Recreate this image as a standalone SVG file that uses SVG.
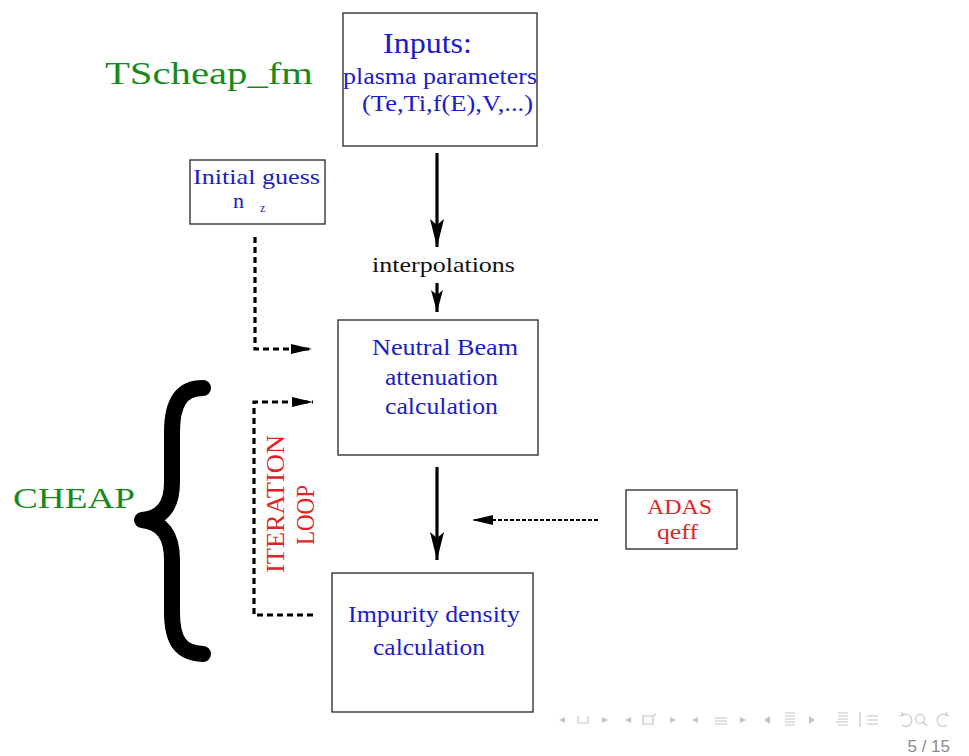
<svg xmlns="http://www.w3.org/2000/svg" width="969" height="756" viewBox="0 0 969 756">
<style>
.box{fill:#fff;stroke:#333;stroke-width:1.4}
.t{font-family:"Liberation Serif","Times New Roman",serif}
.blue{fill:#1c1cc8}
.red{fill:#e02424}
.green{fill:#178a1e}
.blk{fill:#111}
.solid{stroke:#000;stroke-width:3.2;fill:none}
.dash{stroke:#000;stroke-width:3.2;fill:none;stroke-dasharray:6 4}
.fine{stroke:#000;stroke-width:2;fill:none;stroke-dasharray:4 2}
.nav{fill:#c4c4c4}
.navs{stroke:#c4c4c4;stroke-width:1.2;fill:none}
</style>
<defs>
<marker id="ah" markerUnits="userSpaceOnUse" markerWidth="32" markerHeight="16" refX="0" refY="0" viewBox="-30 -8 32 16" orient="auto">
<path d="M0,0 L-28,-7 L-22,0 L-28,7 Z" fill="#000"/>
</marker>
<marker id="ahs" markerUnits="userSpaceOnUse" markerWidth="26" markerHeight="14" refX="0" refY="0" viewBox="-24 -7 26 14" orient="auto">
<path d="M0,0 L-22,-6 L-17,0 L-22,6 Z" fill="#000"/>
</marker>
<marker id="ahd" markerUnits="userSpaceOnUse" markerWidth="26" markerHeight="14" refX="0" refY="0" viewBox="-24 -7 26 14" orient="auto">
<path d="M0,0 L-21,-5 L-21,5 Z" fill="#000"/>
</marker>
</defs>
<rect width="969" height="756" fill="#fff"/>

<text class="t green" x="105" y="84" font-size="32" textLength="208" lengthAdjust="spacingAndGlyphs">TScheap_fm</text>

<g id="inputs">
<rect class="box" x="343" y="13" width="194" height="133"/>
<text class="t blue" x="383" y="53" font-size="30" textLength="89" lengthAdjust="spacingAndGlyphs">Inputs:</text>
<text class="t blue" x="343" y="84" font-size="23" textLength="194" lengthAdjust="spacingAndGlyphs">plasma parameters</text>
<text class="t blue" x="362" y="111" font-size="23" textLength="171" lengthAdjust="spacingAndGlyphs">(Te,Ti,f(E),V,...)</text>
</g>

<g id="initial">
<rect class="box" x="190" y="160" width="135" height="64"/>
<text class="t blue" x="193" y="184" font-size="21" textLength="127" lengthAdjust="spacingAndGlyphs">Initial guess</text>
<text class="t blue" x="233" y="208" font-size="22">n</text>
<text class="t blue" x="260" y="212" font-size="12">z</text>
</g>

<g id="interp">
<text class="t blk" x="372" y="272" font-size="22" textLength="143" lengthAdjust="spacingAndGlyphs">interpolations</text>
</g>

<g id="neutral">
<rect class="box" x="338" y="320" width="200" height="135"/>
<text class="t blue" x="372" y="355" font-size="23" textLength="146" lengthAdjust="spacingAndGlyphs">Neutral Beam</text>
<text class="t blue" x="385" y="385" font-size="23" textLength="113" lengthAdjust="spacingAndGlyphs">attenuation</text>
<text class="t blue" x="385" y="414" font-size="23" textLength="113" lengthAdjust="spacingAndGlyphs">calculation</text>
</g>

<g id="adas">
<rect class="box" x="626" y="490" width="111" height="59"/>
<text class="t red" x="647" y="514" font-size="22" textLength="65" lengthAdjust="spacingAndGlyphs">ADAS</text>
<text class="t red" x="657" y="539" font-size="22" textLength="41" lengthAdjust="spacingAndGlyphs">qeff</text>
</g>

<g id="impurity">
<rect class="box" x="332" y="573" width="201" height="139"/>
<text class="t blue" x="348" y="622" font-size="24" textLength="172" lengthAdjust="spacingAndGlyphs">Impurity density</text>
<text class="t blue" x="373" y="655" font-size="24" textLength="112" lengthAdjust="spacingAndGlyphs">calculation</text>
</g>

<g id="cheap">
<text class="t green" x="13" y="508" font-size="30" textLength="122" lengthAdjust="spacingAndGlyphs">CHEAP</text>
<path d="M203,388 C180,388 172,405 172,432 L172,482 C172,506 162,518 142,520 C162,522 172,535 172,560 L172,612 C172,640 180,653 203,654" fill="none" stroke="#000" stroke-width="16" stroke-linecap="round" stroke-linejoin="round"/>
</g>

<g id="loop-label">
<text class="t red" transform="translate(284,573) rotate(-90)" font-size="26" textLength="138" lengthAdjust="spacingAndGlyphs">ITERATION</text>
<text class="t red" transform="translate(314,545) rotate(-90)" font-size="26" textLength="60" lengthAdjust="spacingAndGlyphs">LOOP</text>
</g>

<g id="connectors">
<line class="solid" x1="437" y1="153" x2="437" y2="247" marker-end="url(#ah)"/>
<line class="solid" x1="437" y1="283" x2="437" y2="312" marker-end="url(#ahs)"/>
<line class="solid" x1="437" y1="467" x2="437" y2="560" marker-end="url(#ah)"/>
<polyline class="dash" points="255,237 255,349 312,349" marker-end="url(#ahd)"/>
<polyline class="dash" points="313,615 254,615 254,402 313,402" marker-end="url(#ahd)"/>
<line class="fine" x1="598" y1="520" x2="472" y2="520" marker-end="url(#ahd)"/>
</g>

<g id="navigation">
<path class="nav" d="M559,720 L565,717 L565,723 Z"/>
<path class="navs" d="M578,716 L578,723 L588,723 L588,716"/>
<path class="nav" d="M608,720 L602,717 L602,723 Z"/>
<path class="nav" d="M625,720 L631,717 L631,723 Z"/>
<path class="navs" d="M643,716 L643,724 L653,724 L653,716 Z M653,716 L656,714"/>
<path class="nav" d="M676,720 L670,717 L670,723 Z"/>
<path class="nav" d="M692,720 L698,717 L698,723 Z"/>
<path class="navs" d="M715,718 L727,718 M715,721 L727,721 M715,724 L727,724"/>
<path class="nav" d="M746,720 L740,717 L740,723 Z"/>
<path class="nav" d="M764,720 L770,716 L770,724 Z"/>
<path class="navs" d="M785,713 L795,713 M785,716 L795,716 M785,719 L795,719 M785,722 L795,722 M785,725 L795,725"/>
<path class="nav" d="M815,720 L809,716 L809,724 Z"/>
<path class="navs" d="M838,713 L848,713 M838,716 L848,716 M838,719 L848,719 M836,722 L848,722 M838,725 L848,725 M860,712 L860,727 M867,716 L878,716 M867,720 L878,720 M867,724 L878,724"/>
<path class="navs" d="M903,715 A6,6 0 1 1 902,725 M900,716 L903,715 L902,712"/>
<circle class="navs" cx="920" cy="719" r="4.5"/>
<path class="navs" d="M923,722 L927,726"/>
<path class="navs" d="M946,715 A6,6 0 1 0 947,725 M949,716 L946,715 L947,712"/>
<text x="950" y="752" font-family="Liberation Sans, Arial, sans-serif" font-size="17" fill="#8a8a8a" text-anchor="end">5 / 15</text>
</g>
</svg>
